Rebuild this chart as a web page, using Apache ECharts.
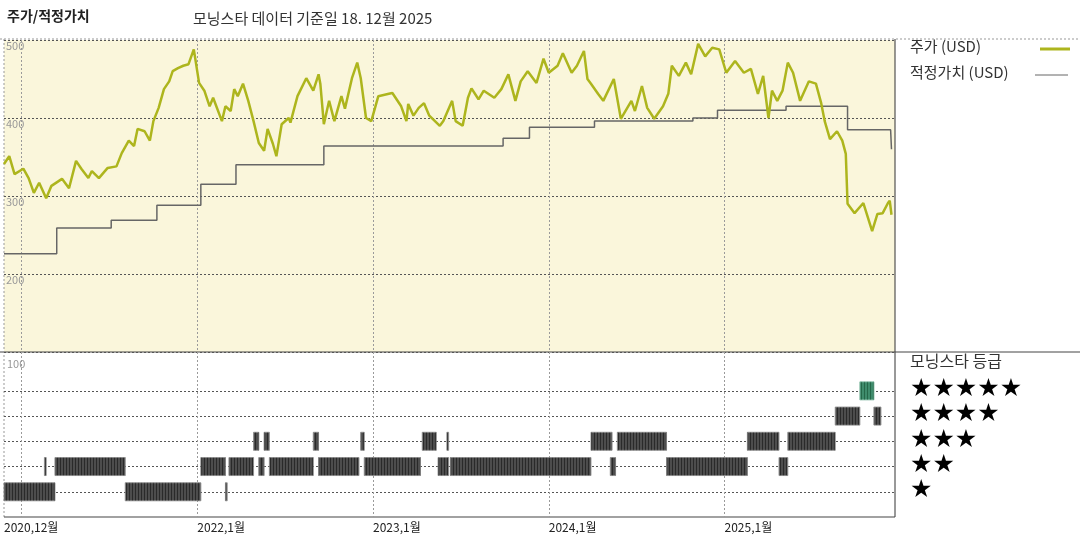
<!DOCTYPE html>
<html><head><meta charset="utf-8">
<script src="https://cdn.jsdelivr.net/npm/echarts@6/dist/echarts.min.js"></script>
<style>html,body{margin:0;padding:0;background:#fff}#c{width:1080px;height:540px}</style>
</head><body><div id="c"></div>
<script>
// decimal year, price (USD)
const priceData = [
  [2020.90,341],[2020.93,351],[2020.96,328],[2021.01,335],[2021.04,323],[2021.07,304],[2021.10,317],
  [2021.14,297],[2021.17,313],[2021.23,322],[2021.27,310],[2021.31,345],[2021.34,335],[2021.38,323],
  [2021.40,332],[2021.44,323],[2021.49,336],[2021.54,338],[2021.57,355],[2021.61,371],[2021.64,364],
  [2021.66,386],[2021.70,383],[2021.73,371],[2021.75,396],[2021.78,413],[2021.81,437],[2021.84,447],
  [2021.86,460],[2021.89,464],[2021.92,467],[2021.95,469],[2021.98,488],[2022.01,445],[2022.04,435],
  [2022.07,415],[2022.09,426],[2022.14,396],[2022.16,415],[2022.19,409],[2022.21,437],[2022.23,428],
  [2022.26,444],[2022.29,422],[2022.32,396],[2022.35,368],[2022.38,358],[2022.40,386],[2022.43,367],
  [2022.45,351],[2022.48,392],[2022.52,400],[2022.53,394],[2022.57,428],[2022.62,451],[2022.66,435],
  [2022.69,456],[2022.70,444],[2022.72,392],[2022.75,422],[2022.78,396],[2022.82,428],[2022.84,412],
  [2022.88,451],[2022.91,471],[2022.93,451],[2022.96,400],[2022.99,396],[2023.03,428],[2023.09,431],
  [2023.11,432],[2023.16,415],[2023.19,396],[2023.20,418],[2023.23,403],[2023.26,413],[2023.29,419],
  [2023.32,403],[2023.38,390],[2023.40,396],[2023.45,422],[2023.47,396],[2023.51,390],[2023.54,426],
  [2023.56,438],[2023.60,424],[2023.63,435],[2023.69,426],[2023.73,437],[2023.77,456],[2023.81,422],
  [2023.84,447],[2023.88,460],[2023.93,445],[2023.97,476],[2024.00,458],[2024.05,467],[2024.08,483],
  [2024.13,458],[2024.16,467],[2024.20,486],[2024.22,450],[2024.24,444],[2024.28,431],[2024.31,422],
  [2024.37,450],[2024.41,399],[2024.47,422],[2024.49,409],[2024.53,441],[2024.56,413],[2024.60,399],
  [2024.65,415],[2024.68,431],[2024.70,467],[2024.74,454],[2024.78,471],[2024.81,456],[2024.85,495],
  [2024.89,479],[2024.93,490],[2024.97,488],[2025.01,458],[2025.06,473],[2025.11,458],[2025.15,463],
  [2025.19,431],[2025.22,454],[2025.25,400],[2025.27,435],[2025.30,422],[2025.33,435],[2025.36,471],
  [2025.39,458],[2025.43,422],[2025.48,447],[2025.52,444],[2025.55,419],[2025.57,396],[2025.60,373],
  [2025.64,383],[2025.67,371],[2025.69,354],[2025.70,290],[2025.74,278],[2025.79,291],[2025.84,255],
  [2025.87,277],[2025.90,278],[2025.93,291],[2025.94,294],[2025.95,276]
];
// fair value: step changes [decimal year, value]
const fairValueData = [
  [2020.90,226],[2021.20,259],[2021.51,269],[2021.77,288],[2022.02,315],[2022.22,340],[2022.72,364],
  [2023.74,374],[2023.89,388],[2024.26,396],[2024.82,400],[2024.96,410],[2025.35,415],[2025.70,385],
  [2025.945,385],[2025.95,360]
];
// star rating periods [start, end, stars]
const ratingData = [
  [2020.90,2021.19,1],[2021.59,2022.02,1],[2022.16,2022.17,1],
  [2021.13,2021.14,2],[2021.19,2021.59,2],[2022.02,2022.16,2],[2022.18,2022.32,2],[2022.35,2022.38,2],
  [2022.41,2022.66,2],[2022.69,2022.92,2],[2022.95,2023.27,2],[2023.37,2023.43,2],[2023.44,2024.24,2],
  [2024.35,2024.38,2],[2024.67,2025.13,2],[2025.31,2025.36,2],
  [2022.32,2022.35,3],[2022.38,2022.41,3],[2022.66,2022.69,3],[2022.93,2022.95,3],[2023.28,2023.36,3],
  [2023.42,2023.43,3],[2024.24,2024.36,3],[2024.39,2024.67,3],[2025.13,2025.31,3],[2025.36,2025.63,3],
  [2025.63,2025.77,4],[2025.85,2025.89,4],
  [2025.77,2025.85,5]
];
const yearTicks = [2021, 2022, 2023, 2024, 2025];
const xLabelTicks = [2020.9, 2021, 2022, 2023, 2024, 2025];
const priceTicks = [200, 300, 400, 500];
const starRows = ['★★★★★', '★★★★', '★★★', '★★', '★'];

const X_MIN = 2020.9, X_MAX = 2025.97;
const chart = echarts.init(document.getElementById('c'));
const font = '"Noto Sans CJK KR", "DejaVu Sans", sans-serif';

const xBase = (gridIndex, labels) => ({
  type: 'value', gridIndex, min: X_MIN, max: X_MAX,
  axisLine: { show: false }, axisTick: { show: false, customValues: yearTicks },
  splitLine: { show: true, lineStyle: { color: '#9a9a9a', type: [2, 2], width: 1 } },
  axisLabel: labels ? {
    show: true, customValues: xLabelTicks, align: 'left', margin: 4, hideOverlap: false,
    showMinLabel: true, showMaxLabel: true,
    color: '#222', fontSize: 12, fontFamily: font,
    formatter: v => v < 2021 ? '2020,12월' : Math.round(v) + ',1월'
  } : { show: false }
});

chart.setOption({
  animation: false,
  textStyle: { fontFamily: font },
  grid: [
    { left: 4, right: 185, top: 40, height: 312, backgroundColor: '#faf6db', show: true, borderWidth: 0 },
    { left: 4, right: 185, top: 352, height: 165, show: false }
  ],
  xAxis: [xBase(0, false), xBase(1, true)],
  yAxis: [
    { type: 'value', gridIndex: 0, min: 100, max: 500, interval: 100,
      axisLine: { show: false }, axisTick: { show: false },
      splitLine: { lineStyle: { color: '#555', type: [2, 2], width: 1 } },
      axisLabel: { inside: true, verticalAlign: 'top', margin: 2, color: '#999', fontSize: 11,
        formatter: v => priceTicks.includes(v) ? String(v) : '' } },
    { type: 'value', gridIndex: 1, min: 0, max: 6.54,
      axisLine: { show: false }, axisLabel: { show: false },
      axisTick: { show: false, customValues: [1, 2, 3, 4, 5] },
      splitLine: { show: true, lineStyle: { color: '#555', type: [2, 2], width: 1 } } }
  ],
  series: [
    { type: 'line', name: '적정가치 (USD)', xAxisIndex: 0, yAxisIndex: 0, data: fairValueData,
      step: 'end', symbol: 'none', lineStyle: { color: '#666', width: 1.5 }, z: 3 },
    { type: 'line', name: '주가 (USD)', xAxisIndex: 0, yAxisIndex: 0, data: priceData,
      symbol: 'none', lineStyle: { color: '#adb51d', width: 2.5 }, z: 4 },
    { type: 'custom', xAxisIndex: 1, yAxisIndex: 1, data: ratingData,
      renderItem: (params, api) => {
        const a = api.coord([api.value(0), api.value(2)]);
        const b = api.coord([api.value(1), api.value(2)]);
        const w = Math.max(b[0] - a[0], 1.5);
        const five = api.value(2) === 5;
        return { type: 'rect', shape: { x: a[0], y: a[1] - 9, width: w, height: 18 },
          style: { fill: five ? '#3f8c6c' : '#4d4d4d', stroke: five ? '#7fb8a0' : '#888', lineWidth: 0.5,
            decal: { symbol: 'rect', symbolSize: 1, dashArrayX: [1, 2], dashArrayY: [20, 0], rotation: 0,
              color: five ? 'rgba(20,80,50,0.6)' : 'rgba(0,0,0,0.45)' } } };
      } }
  ],
  graphic: [
    { type: 'text', left: 7, top: 9, style: { text: '주가/적정가치', font: 'bold 14px ' + font, fill: '#222' } },
    { type: 'text', left: 193, top: 11, style: { text: '모닝스타 데이터 기준일 18. 12월 2025', font: '15px ' + font, fill: '#333' } },
    { type: 'line', shape: { x1: 0, y1: 39, x2: 1080, y2: 39 }, style: { stroke: '#999', lineWidth: 1, lineDash: [2, 2] } },
    { type: 'line', shape: { x1: 895, y1: 39, x2: 895, y2: 517 }, style: { stroke: '#333', lineWidth: 1 } },
    { type: 'line', shape: { x1: 0, y1: 352, x2: 1080, y2: 352 }, style: { stroke: '#444', lineWidth: 1 } },
    { type: 'line', shape: { x1: 4, y1: 39, x2: 4, y2: 517 }, style: { stroke: '#999', lineWidth: 1, lineDash: [2, 2] } },
    { type: 'line', shape: { x1: 4, y1: 517, x2: 895, y2: 517 }, style: { stroke: '#444', lineWidth: 1.2 } },
    { type: 'text', left: 7, top: 358, style: { text: '100', font: '11px ' + font, fill: '#999' } },
    { type: 'text', left: 910, top: 39, style: { text: '주가 (USD)', font: '15px ' + font, fill: '#333' } },
    { type: 'line', shape: { x1: 1040, y1: 49, x2: 1070, y2: 49 }, style: { stroke: '#adb51d', lineWidth: 3 } },
    { type: 'text', left: 910, top: 65, style: { text: '적정가치 (USD)', font: '15px ' + font, fill: '#333' } },
    { type: 'line', shape: { x1: 1035, y1: 75, x2: 1068, y2: 75 }, style: { stroke: '#666', lineWidth: 1 } },
    { type: 'text', left: 910, top: 353, style: { text: '모닝스타 등급', font: '16px ' + font, fill: '#333' } },
    ...starRows.map((s, i) => ({ type: 'text', left: 910, top: 377 + i * 25.3,
      style: { text: s, font: '25px "DejaVu Sans", sans-serif', fill: '#000' } }))
  ]
});
</script></body></html>
